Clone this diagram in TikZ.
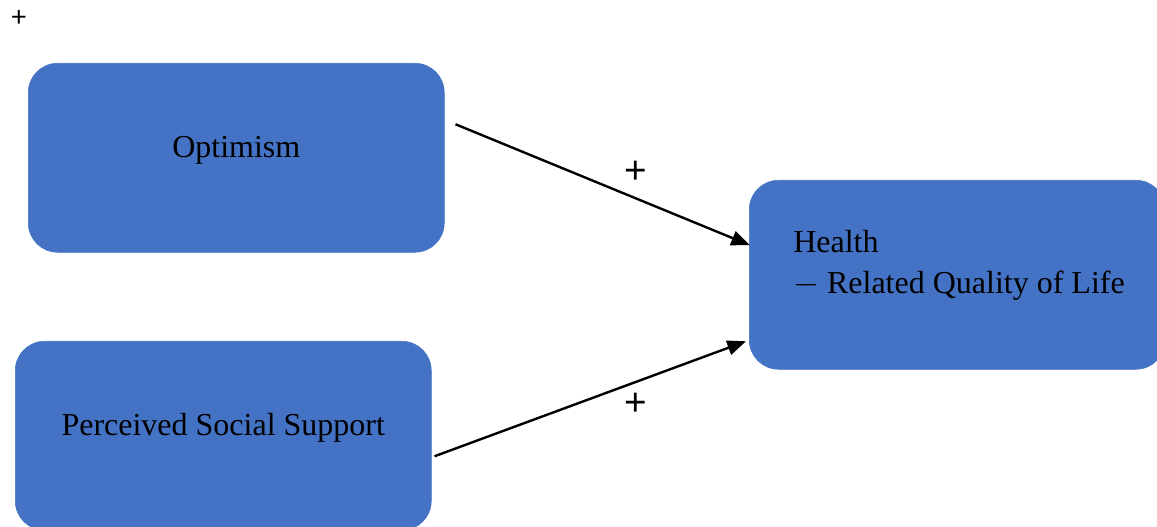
\documentclass[tikz,border=0pt]{standalone}
\usepackage{fontspec}
\setmainfont{Liberation Serif}
\newfontfamily\calib{Carlito}
\newfontfamily\lsans{Liberation Sans}
\usetikzlibrary{arrows.meta,calc}
\definecolor{boxblue}{HTML}{4472C4}
\tikzset{
  box/.style={fill=boxblue, draw=boxblue, rounded corners=22pt, minimum width=312pt,
    minimum height=141.75pt, inner sep=0pt, anchor=north west, text height=8pt, text depth=8pt,
    font=\fontsize{24}{28}\selectfont},
  conn/.style={line width=1.8pt, -{Triangle[length=14pt,width=11pt]}},
  sign/.style={font=\lsans\fontsize{29}{32}\selectfont, inner sep=0pt}
}
\begin{document}
\begin{tikzpicture}[x=0.75pt,y=-0.75pt]
\useasboundingbox (0,0) rectangle (1157,527);
\clip (0,0) rectangle (1157,527);
\node[font=\calib\fontsize{22}{26}\selectfont, inner sep=0pt] (tl) at (19,18) {+};
\node[box] (opt) at (28,63) {Optimism};
\node[box] (pss) at (15,341) {Perceived Social Support};
\node[box] (hq) at (749,180) {};
\node[anchor=base west, align=left, inner sep=0pt, font=\fontsize{24}{30.75}\selectfont] (hqt) at (793,294) {Health\\$-$ Related Quality of Life};
\coordinate (s1) at ($(opt.east)+(11,-33.5)$);
\coordinate (t1) at ($(hq.west)+(1,-29.5)$);
\coordinate (s2) at ($(pss.east)+(3,20.5)$);
\coordinate (t2) at ($(hq.west)+(-3,66.5)$);
\draw[conn] (s1) -- (t1);
\draw[conn] (s2) -- (t2);
\node[sign] (p1) at (636,172) {+};
\node[sign] (p2) at (636,404) {+};
\end{tikzpicture}
\end{document}
